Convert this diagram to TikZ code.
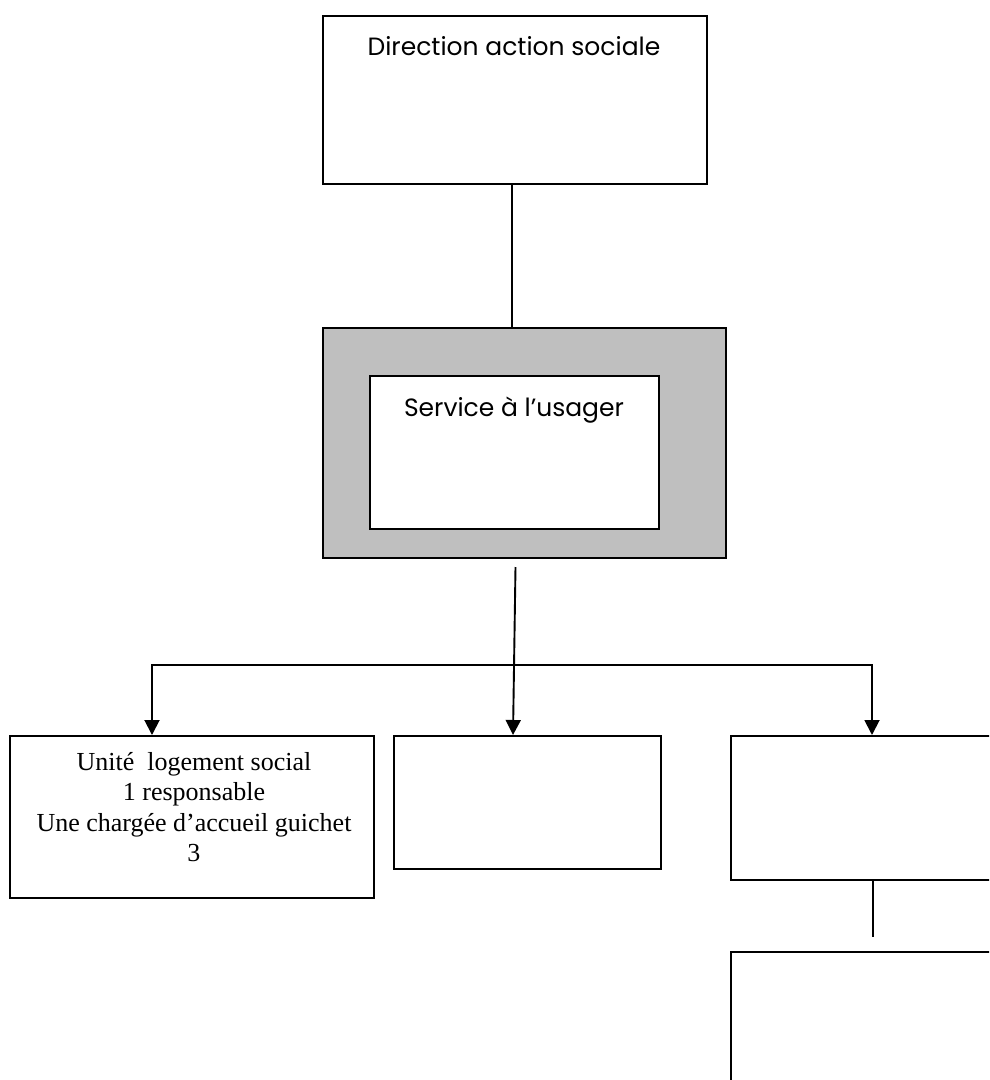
\documentclass[tikz,border=0pt]{standalone}
\usepackage{fontspec}
\setmainfont{Liberation Serif}
\newfontfamily\comicfont{Poppins}
\usetikzlibrary{arrows.meta,calc}
\begin{document}
\begin{tikzpicture}[x=1pt,y=-1pt,
  box/.style={draw=black,line width=1.9pt,fill=white,inner sep=0pt,anchor=north west},
  graybox/.style={box,fill=lightgray},
  conn/.style={line width=1.9pt,draw=black},
  arr/.style={conn,-{Triangle[length=15pt,width=15pt]}},
  comictext/.style={font=\comicfont\fontsize{25}{29}\selectfont,anchor=base,inner sep=0pt},
  serif/.style={font=\fontsize{26}{30.5}\selectfont,align=center,anchor=base,inner sep=0pt}
]
\colorlet{lightgray}{black!25}
\clip (0,0) rectangle (989,1080);
\fill[white] (0,0) rectangle (989,1080);
% top box
\node[box,minimum width=384pt,minimum height=168pt] (dir) at (322,15) {};
\node[comictext] (dirt) at (514,55) {Direction action sociale};
% service
\node[graybox,minimum width=403pt,minimum height=230pt] (svc) at (322,327) {};
\node[box,minimum width=289pt,minimum height=153pt] (svcin) at (369,375) {};
\node[comictext] (svct) at (514,416) {Service à l’usager};
% lower boxes
\node[box,minimum width=364pt,minimum height=162pt] (unit) at (9,735) {};
\node[serif] (unitt) at (194,861.5) {Unité\ \ logement social\\1 responsable\\Une chargée d’accueil guichet\\3};
\node[box,minimum width=267pt,minimum height=133pt] (mid) at (393,735) {};
\node[box,minimum width=300pt,minimum height=144pt] (right) at (730,735) {};
\node[box,minimum width=300pt,minimum height=160pt] (bottom) at (730,951) {};
% connectors
\draw[conn] (dir.south -| 512,0) -- (svc.north -| 512,0);
\coordinate (s0) at (515.5,567);
\coordinate (m1) at ($(mid.north west)+(120,0)$);
\draw[arr] (s0) -- (m1);
\coordinate (bl) at (152,665);
\coordinate (br) at (872,665);
\draw[conn,line cap=rect] (bl) -- (br);
\draw[arr] (bl) -- (bl |- unit.north);
\draw[arr] (br) -- (br |- right.north);
\coordinate (r2) at (873,937);
\draw[conn] (right.south -| r2) -- (r2);
\end{tikzpicture}
\end{document}
